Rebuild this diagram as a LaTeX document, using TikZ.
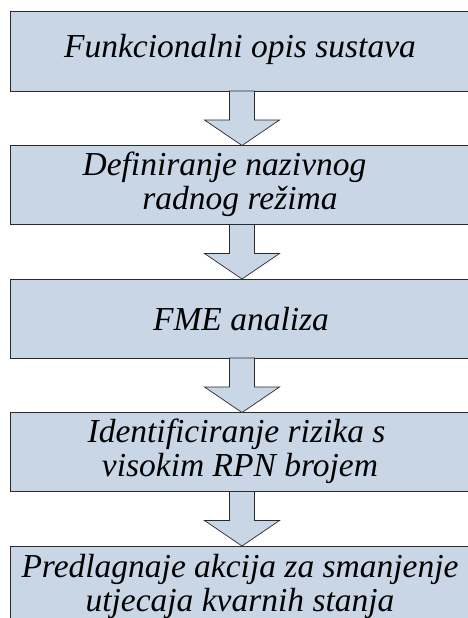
\documentclass[tikz,border=0pt]{standalone}
\usepackage{fontspec}
\setmainfont{Liberation Serif}
\usetikzlibrary{calc}
\definecolor{boxfill}{HTML}{C9D6E6}
\definecolor{boxline}{HTML}{2A2A2A}
\tikzset{
  stepbox/.style={draw=boxline, line width=1pt, fill=boxfill},
  flowarrow/.style={draw=boxline, line width=0.7pt, fill=boxfill},
  txt/.style={anchor=base, inner sep=0pt, font=\fontsize{33.5}{36}\selectfont\itshape}
}
\begin{document}
\begin{tikzpicture}[x=1pt,y=-1pt]
\useasboundingbox (0,0) rectangle (467,618);
\fill[white] (0,0) rectangle (467,618);
% boxes
\foreach \t/\n in {12/b1,145.5/b2,279/b3,412.5/b4,546/b5}{
  \draw[stepbox] (10,\t) rectangle (480,\t+79);
  \coordinate (\n top) at (242,\t);
  \coordinate (\n bot) at (242,\t+79);
}
% arrows
\foreach \a/\b in {b1/b2,b2/b3,b3/b4,b4/b5}{
  \draw[flowarrow] ($(\a bot)+(-12.5,0)$) -- ($(\a bot)+(12.5,0)$) -- ($(\a bot)+(12.5,29)$)
     -- ($(\a bot)+(37.5,29)$) -- (\b top) -- ($(\a bot)+(-37.5,29)$) -- ($(\a bot)+(-12.5,29)$) -- cycle;
}
% texts
\node[txt] (t1) at (240,58) {Funkcionalni opis sustava};
\node[txt] (t2a) at (224.5,175) {Definiranje nazivnog};
\node[txt] (t2b) at (240,209) {radnog režima};
\node[txt] (t3) at (241,330) {FME analiza};
\node[txt] (t4a) at (236.5,442) {Identificiranje rizika s};
\node[txt] (t4b) at (240,476) {visokim RPN brojem};
\node[txt] (t5a) at (240,577) {Predlagnaje akcija za smanjenje};
\node[txt] (t5b) at (240,611) {utjecaja kvarnih stanja};
\end{tikzpicture}
\end{document}
